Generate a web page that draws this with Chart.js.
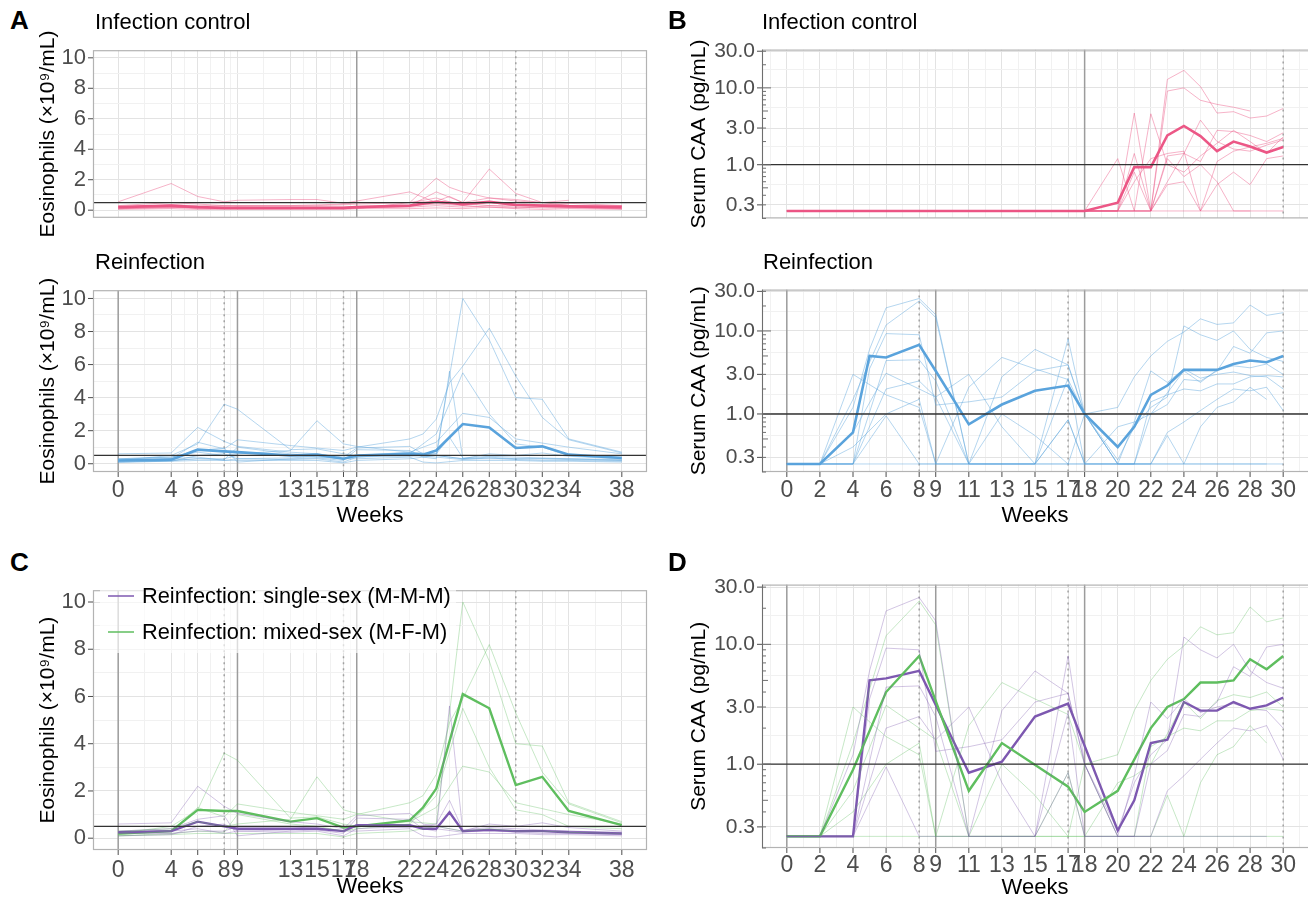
<!DOCTYPE html>
<html>
<head>
<meta charset="utf-8">
<script src="https://cdn.jsdelivr.net/npm/chart.js@4.4.1/dist/chart.umd.min.js"></script>
<style>
  body { margin: 0; background: #fff; width: 1308px; height: 900px; position: relative; overflow: hidden;
         font-family: "Liberation Sans", Arial, sans-serif; }
  canvas { position: absolute; }
  .txt { position: absolute; white-space: nowrap; line-height: 26px; }
  .letter { font-weight: bold; font-size: 26px; }
  .sub { font-size: 22px; color: #000; }
  .leg { font-size: 21.8px; color: #000; }
  .legbox { position: absolute; left: 100px; top: 579px; width: 356px; height: 74px; background: rgba(255,255,255,0.65); }
  .swatch { position: absolute; height: 2px; width: 26px; }
</style>
</head>
<body>
<script>
const FONT = '"Liberation Sans", Arial, sans-serif';

// ---- time points and tick labels ----
const weeksEos = [0, 4, 6, 8, 9, 13, 15, 17, 18, 22, 23, 24, 25, 26, 28, 30, 32, 34, 38];
const weeksCAA = [0, 2, 4, 5, 6, 8, 9, 11, 13, 15, 17, 18, 20, 21, 22, 23, 24, 25, 26, 27, 28, 29, 30];
const eosXTicks = [0, 4, 6, 8, 9, 13, 15, 17, 18, 22, 24, 26, 28, 30, 32, 34, 38];
const caaXTicks = [0, 2, 4, 6, 8, 9, 11, 13, 15, 17, 18, 20, 22, 24, 26, 28, 30];
const eosYTicks = [0, 2, 4, 6, 8, 10];
const caaYTicks = [0.3, 1, 3, 10, 30];
const caaYLabels = ['0.3', '1.0', '3.0', '10.0', '30.0'];

// reference lines (weeks) and thresholds
const ctrlSolid = [18], ctrlDotted = [30];
const reinfSolid = [0, 9, 18], reinfDotted = [8, 17, 30];
const eosCutoff = 0.5, caaCutoff = 1.0;

// ---- eosinophils, infection control ----
const ctrlEos1 = [0.55, 1.75, 0.9, 0.55, 0.65, 0.7, 0.7, 0.45, 0.6, 1.2, null, 0.5, null, 0.45, 0.3, 0.3, 0.35, 0.4, null];
const ctrlEos2 = [0.2, 0.35, 0.3, 0.3, 0.3, 0.3, 0.3, 0.35, 0.4, 0.5, null, 2.1, 1.5, 1.2, 0.8, 0.7, 0.5, 0.45, 0.3];
const ctrlEos3 = [0.1, 0.2, 0.15, 0.15, 0.2, 0.15, 0.15, 0.15, 0.2, 0.3, null, 1.2, null, 0.5, 2.7, 1.1, 0.5, 0.3, 0.25];
const ctrlEos4 = [0.3, 0.5, 0.4, 0.3, 0.3, 0.3, 0.35, 0.4, 0.5, 0.5, null, 0.6, 0.9, 0.5, 0.8, 0.6, 0.5, 0.65, null];
const ctrlEos5 = [0.15, 0.2, 0.1, 0.1, 0.1, 0.1, 0.1, 0.1, 0.15, 0.2, null, 0.3, null, 0.2, 0.3, 0.2, 0.15, 0.15, 0.1];
const ctrlEos6 = [0.05, 0.1, 0.05, 0.05, 0.05, 0.05, 0.05, 0.05, 0.1, 0.1, null, 0.15, null, 0.1, 0.2, 0.1, 0.05, 0.1, 0.05];
const ctrlEos7 = [0.25, 0.3, 0.2, 0.2, 0.2, 0.2, 0.2, 0.2, 0.25, 0.3, null, 0.4, null, 0.3, 0.5, 0.3, 0.3, 0.3, 0.3];
const ctrlEos8 = [0.1, 0.15, 0.2, 0.15, 0.1, 0.1, 0.15, 0.1, 0.1, 0.5, null, 0.8, null, 0.3, 0.2, 0.15, 0.2, 0.2, 0.1];
const ctrlEosMean = [0.2, 0.3, 0.2, 0.15, 0.15, 0.15, 0.15, 0.15, 0.2, 0.3, null, 0.55, null, 0.4, 0.55, 0.35, 0.3, 0.25, 0.2];

// ---- eosinophils, reinfection: mixed-sex (M-F-M) ----
const mixEos1 = [0.2, 0.5, 1.2, 3.6, 3.3, 0.85, 0.9, 0.6, 0.5, 0.7, null, 0.6, null, 10.0, 7.5, 4.0, 3.9, 1.5, 0.7];
const mixEos2 = [0.15, 0.3, 1.3, 0.9, 1.45, 1.1, 0.95, 0.8, 1.0, 1.5, 1.8, 2.7, 4.9, 5.9, 8.2, 5.3, 2.8, 1.45, 0.65];
const mixEos3 = [0.3, 0.4, 0.7, 0.5, 0.6, 0.8, 2.6, 1.2, 1.05, 0.7, null, 1.3, null, 3.05, 2.8, 1.5, 1.25, 1.0, 0.6];
const mixEos4 = [0.1, 0.2, 0.3, 0.25, 1.0, 0.6, 0.5, 0.3, 0.4, 0.6, null, 1.8, null, 5.5, 3.0, 1.2, 1.0, 0.5, 0.4];
const mixEos5 = [0.1, 0.15, 0.2, 0.2, 0.2, 0.2, 0.2, 0.05, 0.2, 0.3, null, 0.5, null, 0.3, 0.4, 0.3, 0.3, 0.25, 0.2];
// ---- eosinophils, reinfection: single-sex (M-M-M) ----
const sglEos1 = [0.6, 0.65, 2.2, 1.35, 1.05, 0.7, 0.6, 0.4, 0.95, 1.05, 0.6, 0.5, null, 0.3, 0.6, 0.5, 0.65, 0.45, 0.3];
const sglEos2 = [0.3, 0.4, 0.8, 0.95, 0.1, 0.3, 0.35, 0.2, 0.85, 0.8, 0.4, 0.3, 5.6, 0.3, 0.3, 0.3, 0.3, 0.3, 0.2];
const sglEos3 = [0.2, 0.2, 0.3, 0.3, 0.5, 0.5, 0.4, 0.3, 0.3, 0.4, 0.1, 0.05, null, 0.2, 0.2, 0.2, 0.15, 0.15, 0.1];
const sglEos4 = [0.1, 0.15, 0.5, 0.6, 0.3, 0.25, 0.3, 0.1, 0.4, 0.5, null, 0.4, null, 0.25, 0.35, 0.25, 0.2, 0.2, 0.15];
const sglEos5 = [0.25, 0.3, 0.4, 0.2, 0.3, 0.35, 0.45, 0.3, 0.5, 0.45, null, 0.6, 1.6, 0.35, 0.45, 0.4, 0.35, 0.3, 0.25];
const reinfEosMean = [0.2, 0.25, 0.85, 0.75, 0.7, 0.5, 0.55, 0.3, 0.5, 0.6, 0.55, 0.8, null, 2.4, 2.2, 0.95, 1.05, 0.55, 0.35];
const sglEosMean = [0.25, 0.3, 0.7, 0.5, 0.4, 0.4, 0.4, 0.3, 0.55, 0.55, 0.4, 0.4, 1.1, 0.3, 0.35, 0.3, 0.3, 0.25, 0.2];
const mixEosMean = [0.2, 0.3, 1.2, 1.15, 1.15, 0.7, 0.85, 0.45, 0.5, 0.75, 1.3, 2.1, null, 6.1, 5.5, 2.25, 2.6, 1.15, 0.55];

// ---- serum CAA, infection control (0.25 = below detection) ----
const ctrlCAA1 = [0.25, 0.25, 0.25, null, 0.25, 0.25, 0.25, 0.25, 0.25, 0.25, 0.25, 0.25, 0.25, 0.25, 0.25, 12.9, 16.9, 10.4, 4.7, 4.9, 4.05, 4.3, 5.4];
const ctrlCAA2 = [0.25, 0.25, 0.25, null, 0.25, 0.25, 0.25, 0.25, 0.25, 0.25, 0.25, 0.25, 0.25, 0.25, 0.25, 9.1, 10.0, 6.9, 6.1, 5.6, 5.0, null, null];
const ctrlCAA3 = [0.25, 0.25, 0.25, null, 0.25, 0.25, 0.25, 0.25, 0.25, 0.25, 0.25, 0.25, 1.2, 0.25, 0.25, 1.3, 1.4, 1.1, 2.8, 2.7, 2.4, 2.0, 2.6];
const ctrlCAA4 = [0.25, 0.25, 0.25, null, 0.25, 0.25, 0.25, 0.25, 0.25, 0.25, 0.25, 0.25, 0.25, 4.7, 0.25, 0.6, 1.4, 3.8, 2.0, 1.6, 1.5, 1.8, 2.1];
const ctrlCAA5 = [0.25, 0.25, 0.25, null, 0.25, 0.25, 0.25, 0.25, 0.25, 0.25, 0.25, 0.25, 0.25, 0.25, 4.6, 1.0, 0.8, 1.3, 1.9, 2.8, 2.0, 1.4, 2.3];
const ctrlCAA6 = [0.25, 0.25, 0.25, null, 0.25, 0.25, 0.25, 0.25, 0.25, 0.25, 0.25, 0.25, 0.25, 0.6, 1.2, 1.4, 1.5, 0.25, 1.1, 1.5, 1.7, 1.9, 2.2];
const ctrlCAA7 = [0.25, 0.25, 0.25, null, 0.25, 0.25, 0.25, 0.25, 0.25, 0.25, 0.25, 0.25, 0.25, 0.8, 0.25, 0.55, 0.6, 0.25, 0.55, 0.8, 0.55, 1.2, 1.3];
const ctrlCAA8 = [0.25, 0.25, 0.25, null, 0.25, 0.25, 0.25, 0.25, 0.25, 0.25, 0.25, 0.25, 0.25, 1.4, 0.25, 1.2, 0.7, 1.0, 0.6, 0.25, 0.25, null, null];
const ctrlCAA9 = [0.25, 0.25, 0.25, null, 0.25, 0.25, 0.25, 0.25, 0.25, 0.25, 0.25, 0.25, 0.25, 0.25, 0.25, 0.25, 0.25, 0.25, 0.25, 0.25, 0.25, 0.25, 0.25];
const ctrlCAAMean = [0.25, 0.25, 0.25, null, 0.25, 0.25, 0.25, 0.25, 0.25, 0.25, 0.25, 0.25, 0.32, 0.93, 0.93, 2.4, 3.2, 2.36, 1.5, 2.0, 1.73, 1.44, 1.7];

// ---- serum CAA, reinfection: single-sex (M-M-M) ----
const sglCAA1 = [0.25, 0.25, 1.2, 6.0, 19, 24.6, 15.7, 0.25, 0.25, 0.25, 8.0, 1.0, 0.25, 0.25, 0.25, 0.25, 0.25, 0.25, 0.25, 0.25, 0.25, 0.25, null];
const sglCAA2 = [0.25, 0.25, 0.25, 3.5, 9.3, 9.0, 1.28, 1.4, 1.6, 3.3, 3.9, 1.0, 0.25, 0.8, 3.3, 2.4, 3.5, 2.7, 3.0, 3.2, 2.9, 2.8, 2.0];
const sglCAA3 = [0.25, 0.25, 0.25, null, 4.4, 4.5, 2.5, 0.25, 2.8, 6.0, 3.9, 1.0, 0.28, 0.7, 1.2, 1.6, 11.5, 9.0, 7.7, 10.0, 6.0, 4.8, 4.3];
const sglCAA4 = [0.25, 0.25, 0.25, null, 2.0, 2.5, 1.6, 3.0, 0.7, 0.25, 2.7, 0.25, 0.25, 0.25, 1.0, 1.3, 2.6, 2.5, 3.3, 6.5, 5.4, 9.5, 10.0];
const sglCAA5 = [0.25, 0.25, 0.25, null, 0.95, 0.25, 0.25, 0.25, 0.25, 0.25, 0.85, 0.25, 0.25, 0.25, 0.25, 0.6, 0.8, 1.1, 1.5, 2.0, 1.9, 2.1, 1.1];
// ---- serum CAA, reinfection: mixed-sex (M-F-M) ----
const mixCAA1 = [0.25, 0.25, 1.5, null, 11.8, 23, 14.5, 0.25, 0.25, 0.25, 0.25, 1.0, 1.2, 2.8, 5.0, 7.5, 9.7, 14, 12, 12.5, 20.5, 15.4, 16.6];
const mixCAA2 = [0.25, 0.25, 3.0, null, 1.7, 1.2, 0.25, 2.1, 4.8, 3.5, 2.6, 1.0, 0.25, 0.25, 0.25, 0.55, 0.25, 0.7, 1.2, 1.4, 2.1, 1.5, null];
const mixCAA3 = [0.25, 0.25, 0.6, null, 3.1, 2.0, 1.6, 0.25, 1.0, 0.55, 0.25, 0.25, 0.7, 0.8, 1.0, 1.8, 3.3, 2.4, 3.4, 3.8, 3.6, 4.0, 3.0];
const mixCAA4 = [0.25, 0.25, 0.4, null, 1.0, 1.5, 0.25, 0.25, 0.25, 0.25, 0.85, 0.25, 0.25, 0.25, 1.4, 1.7, 2.0, 1.9, 2.3, 2.3, 2.8, 2.9, 2.8];
const mixCAA5 = [0.25, 0.25, 0.25, null, 0.25, 0.25, 0.25, 0.25, 0.25, 0.25, 0.25, 0.25, 0.25, 0.25, 0.25, 0.25, 0.25, 0.25, 0.25, 0.25, 0.25, 0.25, 0.25];
const reinfCAAMean = [0.25, 0.25, 0.6, 5.0, 4.8, 6.8, 3.3, 0.75, 1.3, 1.9, 2.2, 1.0, 0.4, 0.7, 1.7, 2.2, 3.4, null, 3.4, 4.0, 4.4, 4.2, 5.0];
const sglCAAMean = [0.25, 0.25, 0.25, 5.0, 5.2, 6.0, null, 0.85, 1.05, 2.5, 3.2, null, 0.28, 0.5, 1.5, 1.6, 3.3, 2.8, 2.8, 3.3, 2.9, 3.1, 3.6];
const mixCAAMean = [0.25, 0.25, 0.9, null, 4.0, 8.0, null, 0.6, 1.5, null, 0.65, 0.4, 0.6, null, 2.0, 3.0, 3.5, 4.8, 4.8, 5.0, 7.5, 6.2, 8.0];

// colours
const PINK = '#ec5786', PINK_T = 'rgba(236,87,134,0.45)';
const BLUE = '#5aa3dc', BLUE_T = 'rgba(90,163,220,0.45)';
const PURPLE = '#7d58b0', PURPLE_T = 'rgba(125,88,176,0.35)';
const GREEN = '#5fbe5f', GREEN_T = 'rgba(95,190,95,0.35)';

const ctrlEos = [ctrlEos1, ctrlEos2, ctrlEos3, ctrlEos4, ctrlEos5, ctrlEos6, ctrlEos7, ctrlEos8];
const mixEos = [mixEos1, mixEos2, mixEos3, mixEos4, mixEos5];
const sglEos = [sglEos1, sglEos2, sglEos3, sglEos4, sglEos5];
const ctrlCAA = [ctrlCAA1, ctrlCAA2, ctrlCAA3, ctrlCAA4, ctrlCAA5, ctrlCAA6, ctrlCAA7, ctrlCAA8, ctrlCAA9];
const sglCAA = [sglCAA1, sglCAA2, sglCAA3, sglCAA4, sglCAA5];
const mixCAA = [mixCAA1, mixCAA2, mixCAA3, mixCAA4, mixCAA5];

// minor grid positions halfway between breaks (geometric for log axes)
function midpoints(arr, log, lo, hi) {
  const n = arr.length;
  const ext = log
    ? [arr[0] * arr[0] / arr[1], ...arr, arr[n - 1] * arr[n - 1] / arr[n - 2]]
    : [2 * arr[0] - arr[1], ...arr, 2 * arr[n - 1] - arr[n - 2]];
  const out = [];
  for (let i = 0; i < ext.length - 1; i++) {
    const m = log ? Math.sqrt(ext[i] * ext[i + 1]) : (ext[i] + ext[i + 1]) / 2;
    if (m > lo && m < hi) out.push(m);
  }
  return out;
}

function series(weeks, vals, color, width) {
  return {
    data: weeks.map((w, i) => ({x: w, y: vals[i]})).filter(p => p.y != null),
    borderColor: color, borderWidth: width, pointRadius: 0, tension: 0, fill: false
  };
}

function addText(text, x, y, cls) {
  const d = document.createElement('div');
  d.className = 'txt ' + cls;
  d.textContent = text;
  d.style.left = x + 'px';
  d.style.top = y + 'px';
  document.body.appendChild(d);
}

const refPlugin = {
  id: 'refs',
  beforeDatasetsDraw(chart, args, o) {
    const {ctx, chartArea: a, scales: {x}} = chart;
    ctx.save();
    ctx.beginPath(); ctx.rect(a.left, a.top, a.right - a.left, a.bottom - a.top); ctx.clip();
    ctx.lineWidth = 1.5;
    ctx.strokeStyle = '#9c9c9c';
    o.solid.forEach(w => {
      const px = x.getPixelForValue(w);
      ctx.beginPath(); ctx.moveTo(px, a.top); ctx.lineTo(px, a.bottom); ctx.stroke();
    });
    ctx.setLineDash([2, 4]);
    ctx.strokeStyle = '#a0a0a0';
    o.dotted.forEach(w => {
      const px = x.getPixelForValue(w);
      ctx.beginPath(); ctx.moveTo(px, a.top); ctx.lineTo(px, a.bottom); ctx.stroke();
    });
    ctx.restore();
  },
  afterDatasetsDraw(chart, args, o) {
    const {ctx, chartArea: a, scales: {x, y}} = chart;
    ctx.save();
    const py = y.getPixelForValue(o.hline);
    ctx.strokeStyle = '#333'; ctx.lineWidth = 1.3;
    ctx.beginPath(); ctx.moveTo(a.left, py); ctx.lineTo(a.right, py); ctx.stroke();
    // panel border
    ctx.strokeStyle = '#b3b3b3'; ctx.lineWidth = 1.2;
    ctx.strokeRect(a.left + 0.5, a.top + 0.5, a.right - a.left - 1 + (o.log ? 4 : 0), a.bottom - a.top - 1);
    // outside axis ticks at labelled breaks
    ctx.strokeStyle = '#4d4d4d'; ctx.lineWidth = 1;
    o.yTicks.forEach(v => {
      const p = y.getPixelForValue(v);
      ctx.beginPath(); ctx.moveTo(a.left - 5, p); ctx.lineTo(a.left, p); ctx.stroke();
    });
    if (o.showX) {
      o.xTicks.forEach(v => {
        const p = x.getPixelForValue(v);
        ctx.beginPath(); ctx.moveTo(p, a.bottom); ctx.lineTo(p, a.bottom + 5); ctx.stroke();
      });
    }
    if (o.log) {
      // log ticks inside the panel along the y axis
      ctx.strokeStyle = '#6e6e6e';
      ctx.beginPath(); ctx.moveTo(a.left + 0.5, a.top); ctx.lineTo(a.left + 0.5, a.bottom); ctx.stroke();
      for (let dec = 0.1; dec <= 10; dec *= 10) {
        for (let k = 1; k <= 9; k++) {
          const v = dec * k;
          if (v < y.min || v > y.max) continue;
          const p = y.getPixelForValue(v);
          const len = k === 1 ? 9 : (k === 5 ? 6 : 4);
          ctx.beginPath(); ctx.moveTo(a.left, p); ctx.lineTo(a.left + len, p); ctx.stroke();
        }
      }
    }
    ctx.restore();
  }
};

function panel(o) {
  const cv = document.createElement('canvas');
  const b = o.box, p = o.plot;
  cv.width = b.w; cv.height = b.h;
  cv.style.left = b.x + 'px'; cv.style.top = b.y + 'px';
  cv.style.width = b.w + 'px'; cv.style.height = b.h + 'px';
  document.body.appendChild(cv);
  const yW = p.l - b.x;
  const xH = o.showX ? b.y + b.h - p.b : 0;
  const padB = o.showX ? 0 : b.y + b.h - p.b;
  const log = o.kind === 'caa';
  const xTicks = log ? caaXTicks : eosXTicks;
  const yTicks = log ? caaYTicks : eosYTicks;
  const xMin = log ? -1.5 : -1.9, xMax = log ? 31.5 : 39.9;
  const yMin = log ? 0.2 : -0.5, yMax = log ? 31.5 : 10.5;
  const xAll = xTicks.concat(midpoints(xTicks, false, xMin, xMax)).sort((m, n) => m - n);
  const yAll = yTicks.concat(midpoints(yTicks, log, yMin, yMax)).sort((m, n) => m - n);
  const gridColor = set => c => (c.tick && set.includes(c.tick.value)) ? '#e3e3e3' : '#f1f1f1';

  new Chart(cv, {
    type: 'line',
    data: {datasets: o.datasets},
    plugins: [refPlugin],
    options: {
      responsive: false, animation: false, events: [],
      layout: {padding: {left: 0, top: p.t - b.y, right: b.x + b.w - p.r, bottom: padB}},
      plugins: {legend: {display: false}, tooltip: {enabled: false},
        refs: {solid: o.solid, dotted: o.dotted, hline: log ? caaCutoff : eosCutoff, log: log,
               showX: o.showX, xTicks: xTicks, yTicks: yTicks}},
      scales: {
        x: {
          type: 'linear', min: xMin, max: xMax,
          afterBuildTicks: s => { s.ticks = xAll.map(v => ({value: v})); },
          afterFit: s => { s.height = xH; },
          border: {display: false},
          grid: {color: gridColor(xTicks), lineWidth: 1, drawTicks: false},
          ticks: {display: o.showX, autoSkip: false, maxRotation: 0, minRotation: 0, padding: o.xPad,
                  color: '#4d4d4d', font: {family: FONT, size: 23},
                  callback: v => xTicks.includes(v) ? String(v) : ''},
          title: {display: o.showX, text: 'Weeks', color: '#000', font: {family: FONT, size: 22},
                  padding: {top: 0, bottom: 2}}
        },
        y: {
          type: log ? 'logarithmic' : 'linear', min: yMin, max: yMax,
          afterBuildTicks: s => { s.ticks = yAll.map(v => ({value: v})); },
          afterFit: s => { s.width = yW; },
          border: {display: false},
          grid: {color: gridColor(yTicks), lineWidth: 1, drawTicks: false},
          ticks: {autoSkip: false, padding: 7, color: '#4d4d4d', font: {family: FONT, size: log ? 21 : 22},
                  callback: v => {
                    const i = yTicks.findIndex(t => Math.abs(t - v) < 1e-9);
                    if (i < 0) return '';
                    return log ? caaYLabels[i] : String(v);
                  }},
          title: {display: true, text: log ? 'Serum CAA (pg/mL)' : 'Eosinophils (×10⁹/mL)', color: '#000',
                  font: {family: FONT, size: 21}, padding: {top: 1, bottom: 0}}
        }
      }
    }
  });
}

function thin(weeks, list, color) { return list.map(v => series(weeks, v, color, 1)); }

// A top: eosinophils, infection control
panel({kind: 'eos', showX: false, box: {x: 35, y: 30, w: 616, h: 208}, plot: {l: 93, t: 38, r: 647, b: 238},
  solid: ctrlSolid, dotted: ctrlDotted,
  datasets: thin(weeksEos, ctrlEos, PINK_T).concat([series(weeksEos, ctrlEosMean, PINK, 2.6)])});
// A bottom: eosinophils, reinfection
panel({kind: 'eos', showX: true, xPad: 5, box: {x: 35, y: 270, w: 616, h: 261}, plot: {l: 93, t: 277, r: 647, b: 472},
  solid: reinfSolid, dotted: reinfDotted,
  datasets: thin(weeksEos, mixEos.concat(sglEos), BLUE_T).concat([series(weeksEos, reinfEosMean, BLUE, 2.6)])});
// B top: CAA, infection control
panel({kind: 'caa', showX: false, box: {x: 686, y: 30, w: 622, h: 208}, plot: {l: 762, t: 38, r: 1308, b: 238},
  solid: ctrlSolid, dotted: ctrlDotted,
  datasets: thin(weeksCAA, ctrlCAA, PINK_T).concat([series(weeksCAA, ctrlCAAMean, PINK, 2.6)])});
// B bottom: CAA, reinfection
panel({kind: 'caa', showX: true, xPad: 5, box: {x: 686, y: 270, w: 622, h: 261}, plot: {l: 762, t: 277, r: 1308, b: 472},
  solid: reinfSolid, dotted: reinfDotted,
  datasets: thin(weeksCAA, sglCAA.concat(mixCAA), BLUE_T).concat([series(weeksCAA, reinfCAAMean, BLUE, 2.6)])});
// C: eosinophils by group
panel({kind: 'eos', showX: true, xPad: 7, box: {x: 35, y: 570, w: 616, h: 332}, plot: {l: 93, t: 578, r: 647, b: 850},
  solid: reinfSolid, dotted: reinfDotted,
  datasets: thin(weeksEos, sglEos, PURPLE_T).concat(thin(weeksEos, mixEos, GREEN_T),
    [series(weeksEos, sglEosMean, PURPLE, 2.4), series(weeksEos, mixEosMean, GREEN, 2.4)])});
// D: CAA by group
panel({kind: 'caa', showX: true, xPad: 4, box: {x: 686, y: 565, w: 622, h: 338}, plot: {l: 762, t: 572, r: 1308, b: 848},
  solid: reinfSolid, dotted: reinfDotted,
  datasets: thin(weeksCAA, sglCAA, PURPLE_T).concat(thin(weeksCAA, mixCAA, GREEN_T),
    [series(weeksCAA, mixCAAMean, GREEN, 2.4), series(weeksCAA, sglCAAMean, PURPLE, 2.4)])});

// panel letters, subtitles
addText('A', 10, 7, 'letter');
addText('B', 668, 7, 'letter');
addText('C', 10, 549, 'letter');
addText('D', 668, 549, 'letter');
addText('Infection control', 95, 9, 'sub');
addText('Reinfection', 95, 249, 'sub');
addText('Infection control', 762, 9, 'sub');
addText('Reinfection', 763, 249, 'sub');

// legend of panel C (semi-transparent key box)
const box = document.createElement('div');
box.className = 'legbox';
document.body.appendChild(box);
[['Reinfection: single-sex (M-M-M)', 'rgba(125,88,176,0.75)', 583], ['Reinfection: mixed-sex (M-F-M)', 'rgba(95,190,95,0.75)', 619]].forEach(([t, c, y]) => {
  const s = document.createElement('div');
  s.className = 'swatch'; s.style.left = '108px'; s.style.top = (y + 12) + 'px'; s.style.background = c;
  document.body.appendChild(s);
  addText(t, 142, y, 'leg');
});
</script>
</body>
</html>
